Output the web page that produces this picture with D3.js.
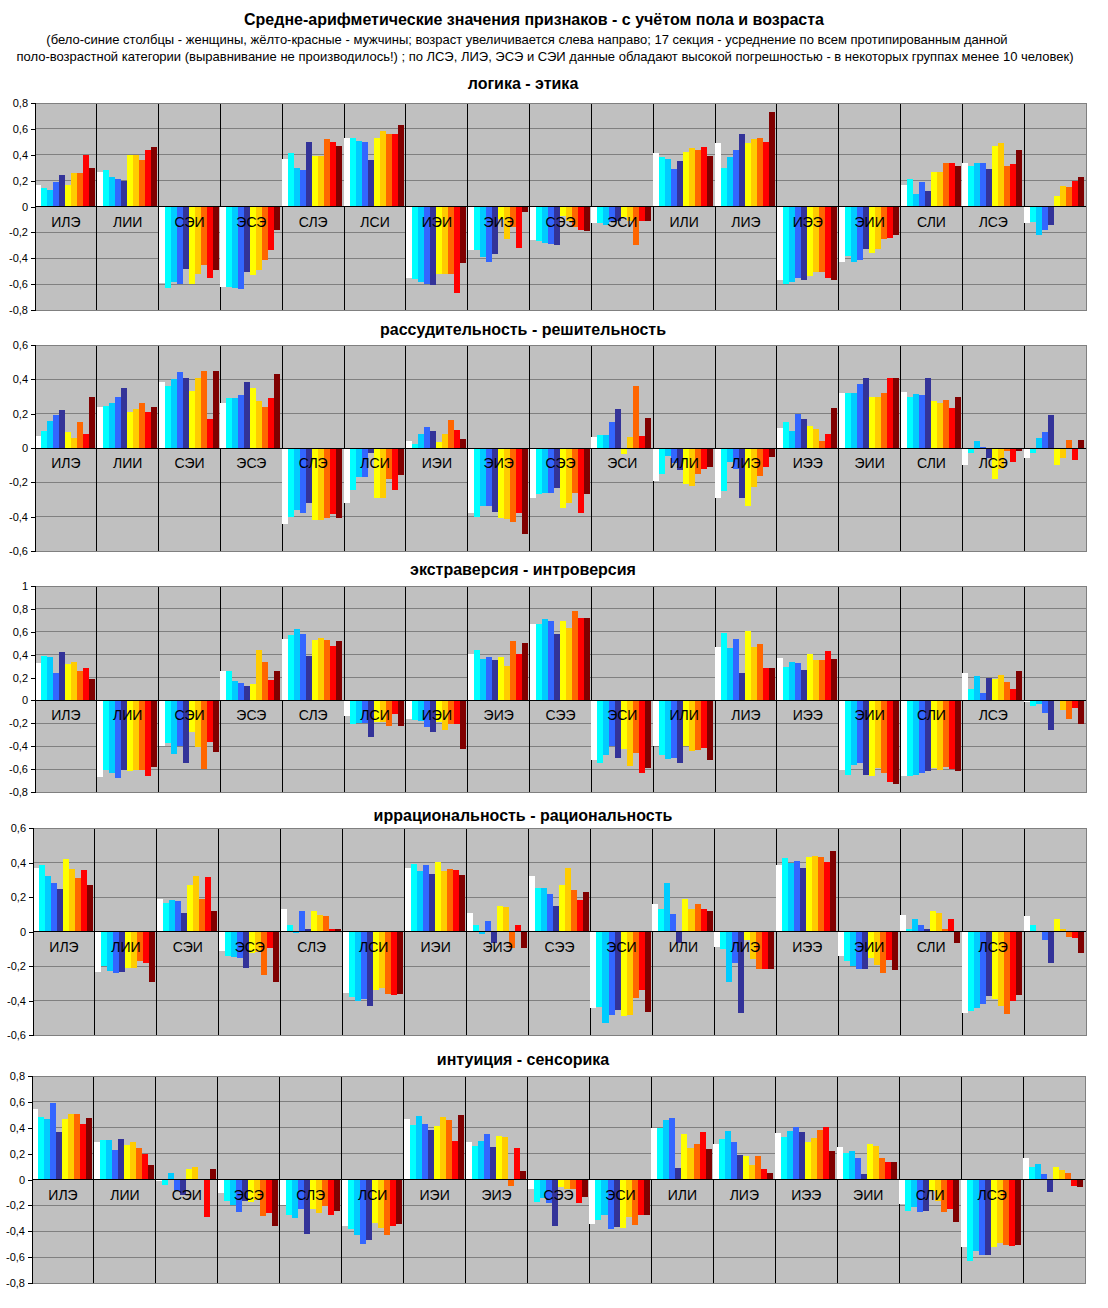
<!DOCTYPE html>
<html>
<head>
<meta charset="utf-8">
<script src="https://cdn.jsdelivr.net/npm/d3@7"></script>
<style>
  body { margin: 0; background: #fff; }
  svg { display: block; font-family: "Liberation Sans", Arial, sans-serif; }
</style>
</head>
<body>
<svg id="chart" width="1108" height="1308"></svg>
<script>
// socionics types, the 17th section is the average over the whole age/sex group
const categories = ["ИЛЭ", "ЛИИ", "СЭИ", "ЭСЭ", "СЛЭ", "ЛСИ", "ИЭИ", "ЭИЭ", "СЭЭ",
                    "ЭСИ", "ИЛИ", "ЛИЭ", "ИЭЭ", "ЭИИ", "СЛИ", "ЛСЭ", ""];
// 5 female age groups (white -> dark blue), 5 male age groups (yellow -> dark red)
const ageGroups = ["ж1", "ж2", "ж3", "ж4", "ж5", "м1", "м2", "м3", "м4", "м5"];
const colors = ["#ffffff", "#00ffff", "#00ccff", "#3366ff", "#333399",
                "#ffff00", "#ffcc00", "#ff6600", "#ff0000", "#800000"];

const titles = ["логика - этика", "рассудительность - решительность", "экстраверсия - интроверсия",
                "иррациональность - рациональность", "интуиция - сенсорика"];

const logicEthics = [
  [0.17, 0.14, 0.13, 0.19, 0.24, 0.17, 0.26, 0.26, 0.40, 0.30],
  [0.27, 0.28, 0.23, 0.21, 0.20, 0.40, 0.40, 0.36, 0.44, 0.46],
  [-0.59, -0.63, -0.58, -0.60, -0.48, -0.60, -0.52, -0.45, -0.55, -0.49],
  [-0.62, -0.62, -0.63, -0.64, -0.51, -0.53, -0.49, -0.41, -0.34, -0.18],
  [0.37, 0.41, 0.30, 0.28, 0.50, 0.39, 0.39, 0.52, 0.50, 0.47],
  [0.53, 0.53, 0.51, 0.50, 0.36, 0.53, 0.58, 0.56, 0.56, 0.63],
  [-0.55, -0.56, -0.58, -0.60, -0.61, -0.52, -0.52, -0.52, -0.67, -0.44],
  [-0.34, -0.34, -0.39, -0.43, -0.37, -0.10, -0.25, -0.16, -0.32, -0.04],
  [-0.26, -0.27, -0.28, -0.29, -0.30, -0.07, -0.11, -0.16, -0.18, -0.19],
  [-0.13, -0.13, -0.14, -0.12, -0.11, -0.08, -0.11, -0.30, -0.11, -0.11],
  [0.41, 0.38, 0.37, 0.29, 0.35, 0.42, 0.45, 0.44, 0.46, 0.39],
  [0.49, 0.30, 0.38, 0.44, 0.56, 0.49, 0.52, 0.53, 0.50, 0.73],
  [-0.57, -0.60, -0.58, -0.55, -0.57, -0.54, -0.51, -0.51, -0.55, -0.57],
  [-0.43, -0.38, -0.43, -0.41, -0.33, -0.36, -0.33, -0.25, -0.24, -0.22],
  [0.17, 0.21, 0.10, 0.19, 0.12, 0.27, 0.27, 0.34, 0.34, 0.31],
  [0.34, 0.31, 0.34, 0.34, 0.29, 0.47, 0.49, 0.31, 0.33, 0.44],
  [-0.13, -0.12, -0.22, -0.18, -0.14, 0.08, 0.16, 0.15, 0.20, 0.23]
];

const judgDecis = [
  [0.07, 0.10, 0.16, 0.19, 0.22, 0.095, 0.06, 0.15, 0.08, 0.30],
  [0.24, 0.245, 0.26, 0.30, 0.35, 0.21, 0.23, 0.26, 0.21, 0.24],
  [0.385, 0.36, 0.40, 0.44, 0.41, 0.33, 0.41, 0.45, 0.17, 0.45],
  [0.26, 0.29, 0.29, 0.31, 0.385, 0.35, 0.275, 0.24, 0.29, 0.43],
  [-0.445, -0.40, -0.36, -0.38, -0.32, -0.42, -0.42, -0.41, -0.385, -0.41],
  [-0.32, -0.245, -0.17, -0.17, -0.03, -0.29, -0.29, -0.18, -0.245, -0.155],
  [0.04, 0.025, 0.083, 0.12, 0.10, 0.037, 0.08, 0.165, 0.106, 0.054],
  [-0.38, -0.40, -0.34, -0.335, -0.375, -0.41, -0.415, -0.43, -0.38, -0.50],
  [-0.29, -0.27, -0.265, -0.265, -0.235, -0.35, -0.32, -0.26, -0.38, -0.27],
  [0.066, 0.077, 0.077, 0.153, 0.228, -0.035, 0.066, 0.36, 0.07, 0.176],
  [-0.195, -0.15, -0.045, -0.085, -0.13, -0.21, -0.22, -0.15, -0.125, -0.11],
  [-0.29, -0.25, -0.08, -0.125, -0.29, -0.34, -0.225, -0.165, -0.11, -0.05],
  [0.118, 0.153, 0.10, 0.20, 0.17, 0.13, 0.11, 0.043, 0.083, 0.234],
  [0.32, 0.32, 0.32, 0.37, 0.41, 0.30, 0.30, 0.32, 0.41, 0.41],
  [0.325, 0.30, 0.315, 0.31, 0.41, 0.275, 0.26, 0.28, 0.234, 0.30],
  [-0.10, -0.027, 0.043, 0.008, -0.06, -0.18, -0.12, -0.02, -0.08, -0.015],
  [-0.056, -0.027, 0.06, 0.095, 0.19, -0.097, -0.06, 0.048, -0.068, 0.048]
];

const extraIntro = [
  [0.33, 0.39, 0.38, 0.24, 0.42, 0.32, 0.34, 0.26, 0.28, 0.19],
  [-0.67, -0.61, -0.63, -0.675, -0.61, -0.62, -0.61, -0.61, -0.66, -0.58],
  [-0.40, -0.37, -0.47, -0.40, -0.55, -0.28, -0.41, -0.60, -0.36, -0.45],
  [0.255, 0.26, 0.17, 0.15, 0.13, 0.14, 0.44, 0.34, 0.18, 0.26],
  [0.54, 0.57, 0.62, 0.58, 0.39, 0.53, 0.55, 0.53, 0.48, 0.52],
  [-0.14, -0.21, -0.20, -0.20, -0.32, -0.19, -0.19, -0.22, -0.12, -0.22],
  [-0.16, -0.17, -0.18, -0.23, -0.275, -0.19, -0.26, -0.21, -0.21, -0.42],
  [0.41, 0.44, 0.36, 0.38, 0.35, 0.38, 0.30, 0.52, 0.41, 0.50],
  [0.67, 0.67, 0.71, 0.69, 0.58, 0.69, 0.63, 0.785, 0.72, 0.72],
  [-0.52, -0.55, -0.475, -0.40, -0.50, -0.42, -0.57, -0.46, -0.63, -0.59],
  [-0.40, -0.475, -0.51, -0.50, -0.545, -0.40, -0.44, -0.43, -0.415, -0.52],
  [0.47, 0.585, 0.455, 0.54, 0.24, 0.61, 0.47, 0.49, 0.28, 0.28],
  [0.37, 0.29, 0.34, 0.325, 0.27, 0.41, 0.35, 0.35, 0.43, 0.36],
  [-0.605, -0.65, -0.56, -0.55, -0.65, -0.66, -0.59, -0.63, -0.71, -0.73],
  [-0.66, -0.66, -0.65, -0.63, -0.62, -0.59, -0.605, -0.58, -0.60, -0.62],
  [0.24, 0.10, 0.21, 0.064, 0.20, 0.185, 0.22, 0.16, 0.10, 0.255],
  [-0.015, -0.05, -0.03, -0.11, -0.26, -0.005, -0.084, -0.16, -0.067, -0.205]
];

const irratRat = [
  [0.37, 0.385, 0.32, 0.28, 0.245, 0.42, 0.36, 0.31, 0.355, 0.27],
  [-0.235, -0.20, -0.23, -0.24, -0.235, -0.21, -0.21, -0.17, -0.18, -0.29],
  [0.19, 0.165, 0.185, 0.175, 0.105, 0.27, 0.32, 0.19, 0.315, 0.12],
  [-0.115, -0.14, -0.15, -0.155, -0.21, -0.125, -0.12, -0.25, -0.097, -0.29],
  [0.133, 0.04, -0.008, 0.116, 0.017, 0.12, 0.093, 0.087, 0.017, 0.017],
  [-0.354, -0.377, -0.40, -0.39, -0.43, -0.34, -0.33, -0.365, -0.37, -0.36],
  [0.37, 0.39, 0.35, 0.385, 0.335, 0.405, 0.35, 0.36, 0.355, 0.325],
  [0.11, 0.04, -0.017, 0.058, -0.064, 0.15, 0.14, -0.097, 0.035, -0.097],
  [0.32, 0.255, 0.255, 0.215, 0.145, 0.27, 0.37, 0.24, 0.185, 0.23],
  [-0.445, -0.44, -0.53, -0.485, -0.455, -0.49, -0.485, -0.385, -0.34, -0.465],
  [0.157, 0.133, 0.28, 0.10, -0.064, 0.19, 0.128, 0.157, 0.128, 0.116],
  [-0.087, -0.10, -0.29, -0.18, -0.47, -0.05, -0.16, -0.22, -0.22, -0.22],
  [0.385, 0.425, 0.40, 0.41, 0.37, 0.43, 0.44, 0.43, 0.405, 0.465],
  [-0.14, -0.17, -0.20, -0.22, -0.22, -0.155, -0.195, -0.24, -0.165, -0.225],
  [0.093, 0.017, 0.07, 0.04, 0.012, 0.12, 0.11, 0.012, 0.07, -0.064],
  [-0.475, -0.46, -0.445, -0.42, -0.375, -0.39, -0.43, -0.48, -0.40, -0.37],
  [0.087, 0.04, 0.003, -0.05, -0.18, 0.075, 0.013, -0.033, -0.04, -0.125]
];

const intuitSens = [
  [0.545, 0.48, 0.465, 0.59, 0.365, 0.465, 0.51, 0.51, 0.43, 0.475],
  [0.29, 0.305, 0.305, 0.227, 0.31, 0.265, 0.29, 0.24, 0.196, 0.11],
  [-0.01, -0.04, 0.05, -0.09, -0.12, 0.08, 0.10, 0.003, -0.29, 0.08],
  [-0.105, -0.165, -0.195, -0.25, -0.17, -0.175, -0.155, -0.285, -0.26, -0.36],
  [-0.195, -0.275, -0.30, -0.23, -0.42, -0.23, -0.26, -0.205, -0.275, -0.245],
  [-0.36, -0.385, -0.43, -0.50, -0.47, -0.34, -0.375, -0.43, -0.36, -0.345],
  [0.465, 0.42, 0.49, 0.43, 0.38, 0.41, 0.48, 0.46, 0.30, 0.50],
  [0.29, 0.26, 0.30, 0.35, 0.25, 0.335, 0.33, -0.05, 0.24, 0.065],
  [-0.075, -0.175, -0.14, -0.18, -0.36, -0.06, -0.07, -0.07, -0.18, -0.135],
  [-0.345, -0.31, -0.275, -0.38, -0.37, -0.375, -0.29, -0.355, -0.275, -0.275],
  [0.395, 0.395, 0.46, 0.475, 0.088, 0.35, 0.24, 0.275, 0.365, 0.235],
  [0.275, 0.31, 0.375, 0.29, 0.19, 0.18, 0.11, 0.18, 0.08, 0.05],
  [0.36, 0.33, 0.375, 0.405, 0.365, 0.29, 0.32, 0.38, 0.405, 0.22],
  [0.25, 0.205, 0.22, 0.165, 0.04, 0.275, 0.26, 0.165, 0.135, 0.135],
  [-0.19, -0.24, -0.215, -0.25, -0.24, -0.09, -0.165, -0.25, -0.23, -0.33],
  [-0.525, -0.63, -0.555, -0.585, -0.58, -0.525, -0.49, -0.51, -0.515, -0.51],
  [0.165, 0.10, 0.12, 0.04, -0.10, 0.10, 0.07, 0.05, -0.05, -0.06]
];

const ticks08 = [-0.8, -0.6, -0.4, -0.2, 0, 0.2, 0.4, 0.6, 0.8];
const ticks06 = [-0.6, -0.4, -0.2, 0, 0.2, 0.4, 0.6];
const ticks10 = [-0.8, -0.6, -0.4, -0.2, 0, 0.2, 0.4, 0.6, 0.8, 1];

const titleText = "Средне-арифметические значения признаков - с учётом пола и возраста";
const noteLines = [
  "(бело-синие столбцы - женщины, жёлто-красные - мужчины; возраст увеличивается слева направо; 17 секция - усреднение по всем протипированным данной",
  "поло-возрастной категории (выравнивание не производилось!) ; по ЛСЭ, ЛИЭ, ЭСЭ и СЭИ данные обладают высокой погрешностью - в некоторых группах менее 10 человек)"
];

// layout of the five panels
const panels = [
  { values: logicEthics, ticks: ticks08, top: 103, bottom: 310, left: 35, right: 1086, titleY: 89 },
  { values: judgDecis,   ticks: ticks06, top: 345, bottom: 551, left: 35, right: 1086, titleY: 335 },
  { values: extraIntro,  ticks: ticks10, top: 586, bottom: 792, left: 35, right: 1086, titleY: 575 },
  { values: irratRat,    ticks: ticks06, top: 828, bottom: 1035, left: 33, right: 1086, titleY: 821 },
  { values: intuitSens,  ticks: ticks08, top: 1076, bottom: 1283, left: 32, right: 1085, titleY: 1065 }
];

const fmt = d3.formatLocale({ decimal: ",", thousands: " ", grouping: [3], currency: ["", ""], minus: "-" })
  .format("~g");

const svg = d3.select("#chart");

svg.append("text")
  .attr("x", 534).attr("y", 25)
  .attr("text-anchor", "middle")
  .attr("font-size", 16).attr("font-weight", "bold")
  .text(titleText);

svg.selectAll(".note")
  .data(noteLines).enter().append("text")
  .attr("class", "note")
  .attr("x", (d, i) => i === 0 ? 527 : 545)
  .attr("y", (d, i) => 44 + i * 17)
  .attr("text-anchor", "middle")
  .attr("font-size", 13)
  .text(d => d);

panels.forEach((p, pi) => {
  const g = svg.append("g");

  const y = d3.scaleLinear().domain(d3.extent(p.ticks)).range([p.bottom, p.top]);
  const x0 = d3.scaleBand().domain(d3.range(categories.length)).range([p.left, p.right]);
  const x1 = d3.scaleBand().domain(ageGroups).range([0, x0.bandwidth() - 1.8]);

  svg.append("text")
    .attr("x", 523).attr("y", p.titleY)
    .attr("text-anchor", "middle")
    .attr("font-size", 16).attr("font-weight", "bold")
    .text(titles[pi]);

  g.append("rect")
    .attr("x", p.left).attr("y", p.top)
    .attr("width", p.right - p.left).attr("height", p.bottom - p.top)
    .attr("fill", "#c0c0c0");

  // horizontal gridlines
  g.append("g")
    .attr("shape-rendering", "crispEdges")
    .selectAll("line")
    .data(p.ticks).enter().append("line")
    .attr("x1", p.left).attr("x2", p.right)
    .attr("y1", d => y(d)).attr("y2", d => y(d))
    .attr("stroke", "#808080");

  // vertical separators between types
  g.append("g")
    .attr("shape-rendering", "crispEdges")
    .selectAll("line")
    .data(d3.range(1, categories.length)).enter().append("line")
    .attr("x1", d => x0(d)).attr("x2", d => x0(d))
    .attr("y1", p.top).attr("y2", p.bottom)
    .attr("stroke", "#000");

  const groupsSel = g.append("g")
    .attr("shape-rendering", "crispEdges")
    .selectAll("g")
    .data(p.values).enter().append("g")
    .attr("transform", (d, i) => `translate(${x0(i)},0)`);

  groupsSel.selectAll("rect")
    .data(d => d.map((v, j) => ({ v, key: ageGroups[j], j })))
    .enter().append("rect")
    .attr("x", d => x1(d.key))
    .attr("y", d => y(Math.max(0, d.v)))
    .attr("width", x1.bandwidth())
    .attr("height", d => Math.abs(y(d.v) - y(0)))
    .attr("fill", d => colors[d.j]);

  // border
  g.append("rect")
    .attr("x", p.left).attr("y", p.top)
    .attr("width", p.right - p.left).attr("height", p.bottom - p.top)
    .attr("fill", "none").attr("stroke", "#808080")
    .attr("shape-rendering", "crispEdges");

  // zero line (category axis)
  g.append("line")
    .attr("x1", p.left).attr("x2", p.right)
    .attr("y1", y(0)).attr("y2", y(0))
    .attr("stroke", "#000")
    .attr("shape-rendering", "crispEdges");

  g.append("g")
    .selectAll("text")
    .data(categories).enter().append("text")
    .attr("x", (d, i) => x0(i) + x0.bandwidth() / 2)
    .attr("y", y(0) + 20)
    .attr("text-anchor", "middle")
    .attr("font-size", 14)
    .attr("fill", "#000")
    .text(d => d);

  g.append("g")
    .attr("transform", `translate(${p.left},0)`)
    .call(d3.axisLeft(y).tickValues(p.ticks).tickSize(4).tickPadding(3).tickFormat(fmt))
    .call(a => a.select(".domain").attr("stroke", "#000").attr("shape-rendering", "crispEdges"))
    .call(a => a.selectAll("line").attr("stroke", "#000").attr("shape-rendering", "crispEdges"))
    .call(a => a.selectAll("text").attr("fill", "#000").attr("font-size", 11)
      .attr("font-family", "'Liberation Sans', Arial, sans-serif"));
});
</script>
</body>
</html>
